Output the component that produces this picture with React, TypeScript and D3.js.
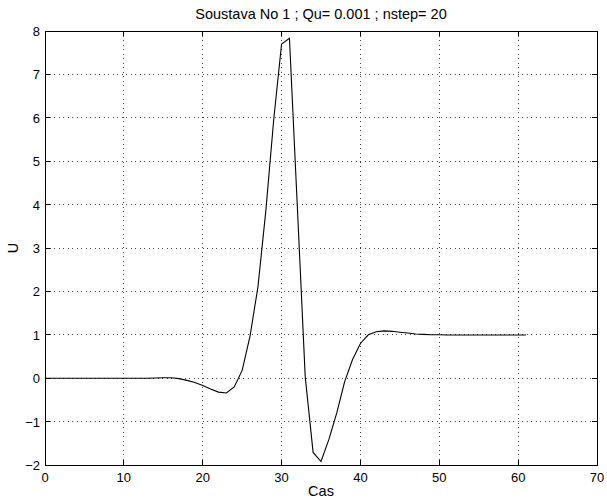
import React from "react";
import * as d3 from "d3";

const times: number[] = Array.from({ length: 62 }, (_, i) => i);
const values: number[] = [
  0, 0, 0, 0, 0, 0, 0, 0, 0, 0,
  0, 0, 0, 0, 0.005, 0.01, 0.01, -0.01, -0.05, -0.1,
  -0.17, -0.25, -0.32, -0.34, -0.2, 0.18, 0.97, 2.1, 3.85, 5.95,
  7.7, 7.83, 3.95, 0.03, -1.71, -1.92, -1.41, -0.8, -0.08, 0.43,
  0.8, 1.0, 1.07, 1.09, 1.08, 1.06, 1.04, 1.02, 1.01, 1.0,
  1.0, 0.995, 0.995, 0.995, 0.995, 0.995, 0.995, 0.995, 0.995, 0.995,
  0.995, 0.995,
];
const xTicks: number[] = [0, 10, 20, 30, 40, 50, 60, 70];
const yTicks: number[] = [-2, -1, 0, 1, 2, 3, 4, 5, 6, 7, 8];
const title = "Soustava No 1 ; Qu= 0.001 ; nstep= 20";
const xLabel = "Cas";
const yLabel = "U";

const W = 607;
const H = 501;
const L = 45, R = 597, T = 31, B = 465;
const FONT = "'Liberation Sans', Arial, Helvetica, sans-serif";

export default function App() {
  const x = d3.scaleLinear().domain([0, 70]).range([L, R]);
  const y = d3.scaleLinear().domain([-2, 8]).range([B, T]);
  const line = d3.line<number>().x((_, i) => x(times[i])).y((d) => y(d));
  const fmt = (v: number) => (v < 0 ? "\u2212" + Math.abs(v) : String(v));
  const tl = 5;
  const gridStyle = { stroke: "#444", strokeWidth: 1, strokeDasharray: "1,3.5" };
  return (
    <svg width={W} height={H} style={{ position: "absolute", left: 0, top: 0, background: "#fff" }}>
      <rect x={0} y={0} width={W} height={H} fill="#fff" />
      {xTicks.filter((t) => t > 0 && t < 70).map((t) => (
        <line key={"gx" + t} x1={x(t)} x2={x(t)} y1={T} y2={B} {...gridStyle} shapeRendering="crispEdges" />
      ))}
      {yTicks.filter((t) => t > -2 && t < 8).map((t) => (
        <line key={"gy" + t} x1={L} x2={R} y1={y(t)} y2={y(t)} {...gridStyle} shapeRendering="crispEdges" />
      ))}
      <path d={line(values) || ""} fill="none" stroke="#000" strokeWidth={1.1} />
      <rect x={L} y={T} width={R - L} height={B - T} fill="none" stroke="#000" strokeWidth={1} shapeRendering="crispEdges" />
      {xTicks.map((t) => (
        <g key={"tx" + t}>
          <line x1={x(t)} x2={x(t)} y1={B} y2={B - tl} stroke="#000" shapeRendering="crispEdges" />
          <line x1={x(t)} x2={x(t)} y1={T} y2={T + tl} stroke="#000" shapeRendering="crispEdges" />
          <text x={x(t)} y={B + 17} fontSize={13} fontFamily={FONT} textAnchor="middle">{fmt(t)}</text>
        </g>
      ))}
      {yTicks.map((t) => (
        <g key={"ty" + t}>
          <line x1={L} x2={L + tl} y1={y(t)} y2={y(t)} stroke="#000" shapeRendering="crispEdges" />
          <line x1={R} x2={R - tl} y1={y(t)} y2={y(t)} stroke="#000" shapeRendering="crispEdges" />
          <text x={L - 5} y={y(t) + 5} fontSize={13} fontFamily={FONT} textAnchor="end">{fmt(t)}</text>
        </g>
      ))}
      <text x={(L + R) / 2} y={19} fontSize={14.5} fontFamily={FONT} textAnchor="middle">{title}</text>
      <text x={(L + R) / 2} y={496} fontSize={14.5} fontFamily={FONT} textAnchor="middle">{xLabel}</text>
      <text transform={`translate(18,${(T + B) / 2}) rotate(-90)`} fontSize={14.5} fontFamily={FONT} textAnchor="middle">{yLabel}</text>
    </svg>
  );
}
